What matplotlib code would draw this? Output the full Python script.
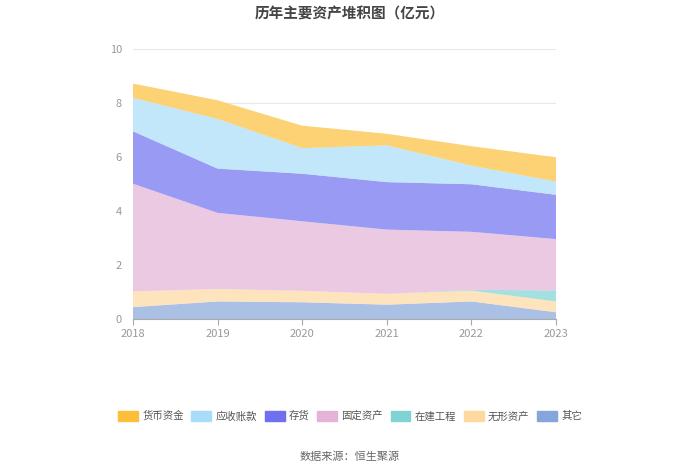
import matplotlib
matplotlib.use("Agg")
import matplotlib.pyplot as plt
import matplotlib.patches as mpatches

plt.rcParams["font.family"] = ["Noto Sans CJK SC", "DejaVu Sans"]

# ── Data (亿元) ────────────────────────────────────────────
years = [2018, 2019, 2020, 2021, 2022, 2023]
other = [0.44, 0.65, 0.62, 0.53, 0.65, 0.25]        # 其它
intangible = [0.58, 0.46, 0.42, 0.40, 0.40, 0.40]   # 无形资产
construction = [0.0, 0.0, 0.0, 0.0, 0.03, 0.41]     # 在建工程
fixed = [3.99, 2.82, 2.58, 2.38, 2.15, 1.90]        # 固定资产
inventory = [1.94, 1.64, 1.76, 1.76, 1.76, 1.64]    # 存货
receivable = [1.24, 1.84, 0.95, 1.36, 0.69, 0.49]   # 应收账款
cash = [0.53, 0.69, 0.83, 0.43, 0.72, 0.90]         # 货币资金

# bottom → top stacking order
series = [other, intangible, construction, fixed, inventory, receivable, cash]
names = ["其它", "无形资产", "在建工程", "固定资产", "存货", "应收账款", "货币资金"]
colors = ["#86a6db", "#fdd9a0", "#7fd3d3", "#e5b3d8", "#6e70f0", "#a8dcf8", "#fcbf3a"]
legend_order = ["货币资金", "应收账款", "存货", "固定资产", "在建工程", "无形资产", "其它"]

fig = plt.figure(figsize=(7.0, 4.74), dpi=100)
ax = fig.add_axes([133 / 700, 155 / 474, 423 / 700, 270 / 474])

# white backing so grid lines do not show through the translucent areas
total = [sum(v) for v in zip(*series)]
ax.fill_between(years, 0, total, color="white", linewidth=0, zorder=1)
ax.stackplot(years, *series, colors=colors, alpha=0.7, linewidth=0, zorder=2)

ax.set_xlim(2018, 2023)
ax.set_ylim(0, 10)
ax.set_yticks([0, 2, 4, 6, 8, 10])
ax.set_xticks(years)
ax.grid(axis="y", color="#e8e8e8", linewidth=0.8, zorder=0)
ax.set_axisbelow(True)
for side in ("top", "right", "left"):
    ax.spines[side].set_visible(False)
ax.spines["bottom"].set_color("#aaaaaa")
ax.spines["bottom"].set_zorder(3)
ax.tick_params(axis="y", length=0, labelsize=8, labelcolor="#999999", pad=8)
ax.tick_params(axis="x", length=4, color="#aaaaaa", labelsize=8, labelcolor="#999999")

fig.text(0.5, 0.972, "历年主要资产堆积图（亿元）", ha="center", va="center",
         fontsize=10.5, fontweight="bold", color="#444444")

handles = [mpatches.Patch(color=colors[names.index(n)], label=n) for n in legend_order]
fig.legend(handles=handles, loc="center", bbox_to_anchor=(0.5, 1 - 416 / 474),
           ncol=7, frameon=False, fontsize=7.5, handlelength=1.9, handleheight=1.1,
           columnspacing=0.75, handletextpad=0.4, labelcolor="#555555")

fig.text(0.5, 1 - 457 / 474, "数据来源：恒生聚源", ha="center", va="center",
         fontsize=8, color="#666666")

fig.savefig("out.png", dpi=100, facecolor="white")
